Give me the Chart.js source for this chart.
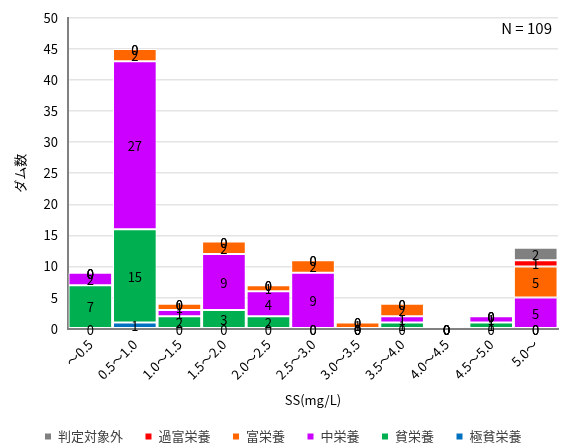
<!DOCTYPE html>
<html>
<head>
    <title>SS別ダム数</title>
    <script src="https://cdn.jsdelivr.net/npm/chart.js"></script>
    <style>
        body {
            margin: 0;
            padding: 0;
            background: #fff;
        }
        .container {
            width: 562px;
            height: 447px;
            position: relative;
        }
    </style>
</head>
<body>
    <div class="container">
        <canvas id="chart" width="562" height="447"></canvas>
    </div>
    <script>
        // categories (SS classes)
        var categories = ['～0.5', '0.5～1.0', '1.0～1.5', '1.5～2.0', '2.0～2.5', '2.5～3.0',
                          '3.0～3.5', '3.5～4.0', '4.0～4.5', '4.5～5.0', '5.0～'];

        // series values, stacked bottom to top
        var kyokuhin  = [0, 1, 0, 0, 0, 0, 0, 0, 0, 0, 0];   // 極貧栄養
        var hin       = [7, 15, 2, 3, 2, 0, 0, 1, 0, 1, 0];  // 貧栄養
        var chu       = [2, 27, 1, 9, 4, 9, 0, 1, 0, 1, 5];  // 中栄養
        var fu        = [0, 2, 1, 2, 1, 2, 1, 2, 0, 0, 5];   // 富栄養
        var kafu      = [0, 0, 0, 0, 0, 0, 0, 0, 0, 0, 1];   // 過富栄養
        var gaiTaisho = [0, 0, 0, 0, 0, 0, 0, 0, 0, 0, 2];   // 判定対象外

        var yTicks = [0, 5, 10, 15, 20, 25, 30, 35, 40, 45, 50];
        var nLabel = 'N = 109';

        var font = '"Noto Sans CJK JP", "Noto Sans", sans-serif';

        // draws each segment's value in its middle, zeros included
        var valueLabels = {
            id: 'valueLabels',
            afterDatasetsDraw: function(chart) {
                var ctx = chart.ctx;
                ctx.save();
                ctx.font = '13px ' + font;
                ctx.fillStyle = '#000';
                ctx.textAlign = 'center';
                ctx.textBaseline = 'middle';
                chart.data.datasets.forEach(function(ds, i) {
                    var meta = chart.getDatasetMeta(i);
                    meta.data.forEach(function(bar, j) {
                        var y = (bar.y + bar.base) / 2;
                        ctx.fillText(String(ds.data[j]), bar.x, y + 1);
                    });
                });
                ctx.restore();
            }
        };

        var nText = {
            id: 'nText',
            afterDraw: function(chart) {
                var ctx = chart.ctx;
                ctx.save();
                ctx.font = '15px ' + font;
                ctx.fillStyle = '#000';
                ctx.textAlign = 'right';
                ctx.textBaseline = 'middle';
                ctx.fillText(nLabel, 552, 28);
                ctx.restore();
            }
        };

        // legend keeps its wide item spacing but takes less height
        var tightLegend = {
            id: 'tightLegend',
            beforeInit: function(chart) {
                var orig = chart.legend.fit;
                chart.legend.fit = function() {
                    orig.call(this);
                    this.height -= 6;
                };
            }
        };

        function ds(label, data, color) {
            return {
                label: label,
                data: data,
                backgroundColor: color,
                borderColor: '#ffffff',
                borderWidth: 1,
                borderSkipped: false,
                barPercentage: 0.98,
                categoryPercentage: 1.0
            };
        }

        var ctx = document.getElementById('chart').getContext('2d');
        var chart = new Chart(ctx, {
            type: 'bar',
            data: {
                labels: categories,
                datasets: [
                    ds('極貧栄養', kyokuhin, '#0070c0'),
                    ds('貧栄養', hin, '#00b050'),
                    ds('中栄養', chu, '#cc00ff'),
                    ds('富栄養', fu, '#ff6600'),
                    ds('過富栄養', kafu, '#ff0000'),
                    ds('判定対象外', gaiTaisho, '#808080')
                ]
            },
            options: {
                responsive: false,
                animation: false,
                layout: { padding: { left: 8, right: 4, top: 10, bottom: 0 } },
                plugins: {
                    legend: {
                        position: 'bottom',
                        reverse: true,
                        labels: {
                            boxWidth: 7,
                            boxHeight: 7,
                            padding: 22,
                            color: '#404040',
                            font: { family: font, size: 13 }
                        }
                    },
                    tooltip: { enabled: false }
                },
                scales: {
                    x: {
                        stacked: true,
                        grid: { display: false, drawTicks: false },
                        border: { color: '#808080', width: 2 },
                        ticks: {
                            color: '#000',
                            maxRotation: 45,
                            minRotation: 45,
                            padding: 8,
                            font: { family: font, size: 13 }
                        },
                        title: {
                            display: true,
                            text: 'SS(mg/L)',
                            color: '#000',
                            padding: { top: 2, bottom: 0 },
                            font: { family: font, size: 13 }
                        }
                    },
                    y: {
                        stacked: true,
                        min: 0,
                        max: 50,
                        afterBuildTicks: function(axis) {
                            axis.ticks = yTicks.map(function(v) { return { value: v }; });
                        },
                        grid: { color: '#e4e4e4', lineWidth: 1.5, drawTicks: false },
                        border: { color: '#808080', width: 2 },
                        ticks: {
                            color: '#000',
                            padding: 10,
                            font: { family: font, size: 13 }
                        },
                        title: {
                            display: true,
                            text: 'ダム数',
                            color: '#000',
                            padding: { bottom: 6 },
                            font: { family: font, size: 13 }
                        }
                    }
                }
            },
            plugins: [valueLabels, nText, tightLegend]
        });
    </script>
</body>
</html>
